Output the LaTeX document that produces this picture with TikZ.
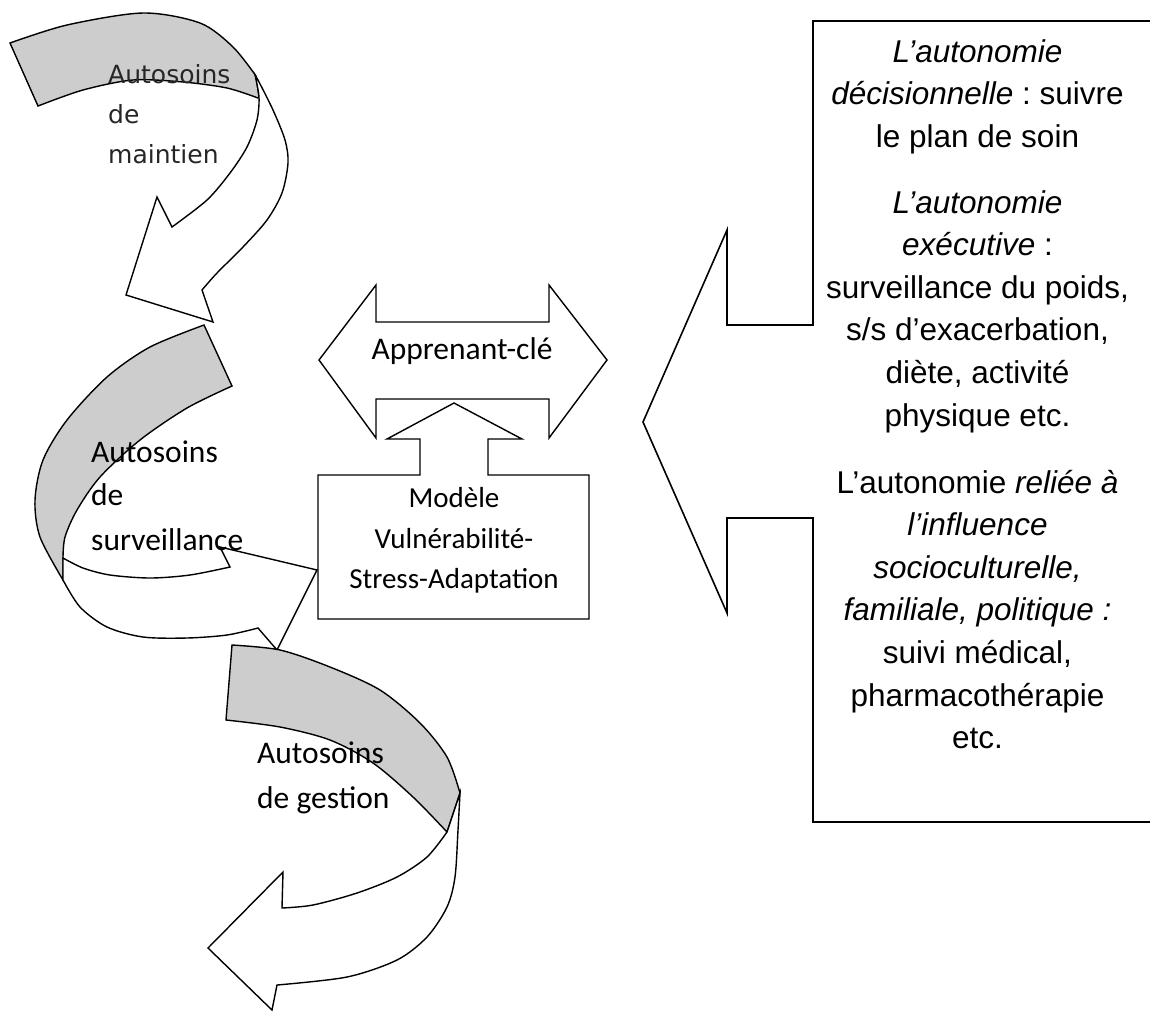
\documentclass[tikz,border=0pt]{standalone}
\usepackage{fontspec}
\newfontfamily\arialf{Liberation Sans}
\newfontfamily\calibf{Carlito}
\newfontfamily\verdf{DejaVu Sans}
\definecolor{bandgray}{RGB}{205,205,205}
\frenchspacing
\begin{document}
\begin{tikzpicture}[x=1pt,y=-1pt,
  outline/.style={draw=black, line width=1.4pt, line join=miter},
  back/.style={outline, fill=bandgray},
  front/.style={outline, fill=white},
  lbl/.style={inner sep=0pt, anchor=base west},
  ctr/.style={inner sep=0pt, anchor=base},
  arl/.style={ctr, font=\arialf\fontsize{31.5}{38}\selectfont},
  cal/.style={font=\calibf\fontsize{31.5}{38}\selectfont},
  calsmall/.style={font=\calibf\fontsize{29}{35}\selectfont},
  ver/.style={font=\verdf\fontsize{25}{30}\selectfont, text=black!85}]
\useasboundingbox (0,0) rectangle (1150,1021);

% --- upper curved arrow (maintien) ---
\draw[back] plot[smooth] coordinates {(10,43) (67,25) (143,13) (200,23) (233,47) (256,76)}
  -- (259,97)
  -- plot[smooth] coordinates {(258,98) (227,88) (183,82) (133,80) (83,90) (38,106)} -- cycle;
\draw[front] plot[smooth] coordinates {(255,75) (259,97) (257,120) (247,147) (230,173) (207,200) (172,227)}
  -- (157,197) -- (126,295) -- (213,322) -- (202,290)
  -- plot[smooth] coordinates {(202,290) (217,273) (243,247) (267,220) (282,193) (288,163) (285,140) (273,110) (258,80)} -- cycle;

% --- middle curved arrow (surveillance) ---
\draw[back] plot[smooth] coordinates {(204,325) (150,347) (107,377) (67,420) (43,460) (35,500) (40,537) (63,580)}
  -- (63,558)
  -- plot[smooth] coordinates {(63,558) (65,537) (77,510) (100,477) (140,440) (187,408) (232,386)} -- cycle;
\draw[front] plot[smooth] coordinates {(63,558) (83,568) (110,575) (150,578) (190,575) (230,567)}
  -- (220,547) -- (317,570) -- (277,650) -- (258,628)
  -- plot[smooth] coordinates {(258,628) (227,635) (187,638) (143,637) (107,627) (80,607) (63,580)} -- cycle;

% --- lower curved arrow (gestion) ---
\draw[back] plot[smooth] coordinates {(232,645) (280,650) (330,667) (380,690) (420,723) (447,757) (460,793)}
  -- (447,832)
  -- plot[smooth] coordinates {(447,832) (413,797) (373,763) (330,740) (280,727) (226,720)} -- cycle;
\draw[front] plot[smooth] coordinates {(460,793) (458,830) (455,877) (447,907) (427,937) (397,960) (347,977) (277,985)}
  -- (272,1010) -- (208,948) -- (283,872) -- (282,908)
  -- plot[smooth] coordinates {(282,908) (313,905) (357,893) (397,877) (427,857) (447,832)} -- cycle;

% --- double arrow ---
\draw[front] (319,360) -- (376,285) -- (376,322) -- (549,322) -- (549,285) -- (607,360)
  -- (549,438) -- (549,399) -- (376,399) -- (376,438) -- cycle;

% --- model box with upward arrow ---
\draw[front] (318,475) -- (420,475) -- (420,439) -- (387,439) -- (454,403) -- (522,439)
  -- (488,439) -- (488,475) -- (589,475) -- (589,619) -- (318,619) -- cycle;

% --- callout on the right ---
\draw[outline, line width=1.6pt] (813,21) -- (1153,21) -- (1153,822) -- (813,822) -- (813,518)
  -- (727,518) -- (727,613) -- (643,422) -- (727,230) -- (727,325) -- (813,325) -- cycle;

% --- labels of the curved arrows ---
\node[lbl, ver] (m1) at (108,83) {Autosoins};
\node[lbl, ver] (m2) at (108,123) {de};
\node[lbl, ver] (m3) at (108,163) {maintien};
\node[lbl, cal] (s1) at (91,462) {Autosoins};
\node[lbl, cal] (s2) at (91,505) {de};
\node[lbl, cal] (s3) at (91,550) {surveillance};
\node[lbl, cal] (g1) at (257,763) {Autosoins};
\node[lbl, cal] (g2) at (257,808) {de gestion};

% --- central labels ---
\node[ctr, cal] (app) at (462,359) {Apprenant-clé};
\node[ctr, calsmall] (v1) at (454,507) {Modèle};
\node[ctr, calsmall] (v2) at (454,548) {Vulnérabilité-};
\node[ctr, calsmall] (v3) at (454,588) {Stress-Adaptation};

% --- callout text ---
\node[arl] (r1)  at (977.5,62)    {\itshape L’autonomie};
\node[arl] (r2)  at (977.5,104.6) {\textit{décisionnelle} : suivre};
\node[arl] (r3)  at (977.5,147.2) {le plan de soin};
\node[arl] (r4)  at (977.5,213)   {\itshape L’autonomie};
\node[arl] (r5)  at (977.5,255.6) {\textit{exécutive} :};
\node[arl] (r6)  at (977.5,298.2) {surveillance du poids,};
\node[arl] (r7)  at (977.5,340.8) {s/s d’exacerbation,};
\node[arl] (r8)  at (977.5,383.4) {diète, activité};
\node[arl] (r9)  at (977.5,426)   {physique etc.};
\node[arl] (r10) at (977.5,493)   {L’autonomie \textit{reliée à}};
\node[arl] (r11) at (977.5,535.6) {\itshape l’influence};
\node[arl] (r12) at (977.5,578.2) {\itshape socioculturelle,};
\node[arl] (r13) at (977.5,620.8) {\itshape familiale, politique :};
\node[arl] (r14) at (977.5,663.4) {suivi médical,};
\node[arl] (r15) at (977.5,706)   {pharmacothérapie};
\node[arl] (r16) at (977.5,748.6) {etc.};
\end{tikzpicture}
\end{document}
